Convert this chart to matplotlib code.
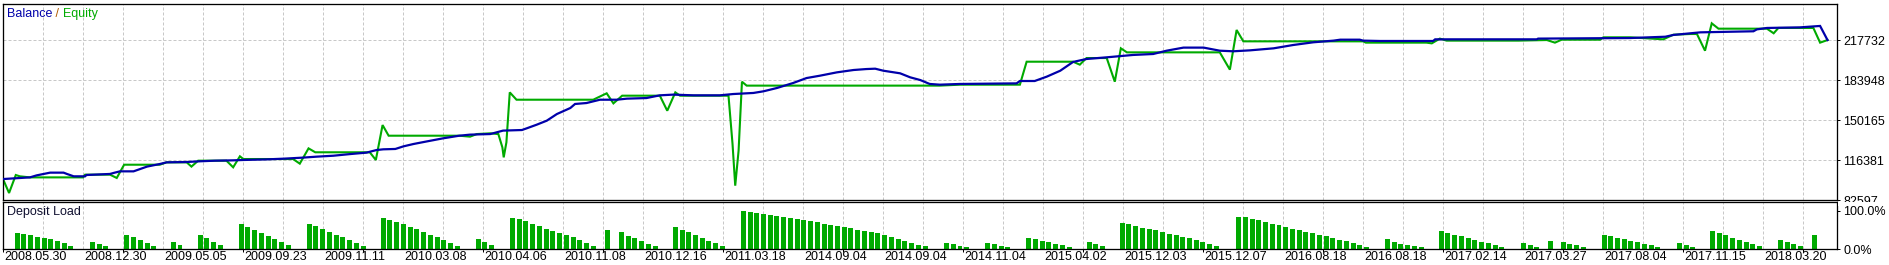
import numpy as np
import matplotlib
matplotlib.use('Agg')
import matplotlib.pyplot as plt
from matplotlib.patches import Rectangle

# ---- data (x = trade number) ----
balance_t = [0.0, 4.0, 5.0, 7.0, 9.0, 9.5, 10.5, 12.2, 12.4, 15.9, 16.6, 17.4, 19.4, 20.4, 21.4, 23.3,
             24.3, 27.3, 29.3, 31.5, 34.2, 35.7, 39.2, 41.7, 44.6, 46.6, 49.1, 51.6, 54.0, 55.5, 56.5,
             58.3, 59.5, 61.0, 63.0, 65.4, 67.8,
             69.4, 72.4, 74.3, 77.1, 77.8, 79.3, 80.8, 82.3, 84.3, 85.0, 86.7, 88.7, 91.2, 92.7, 95.6,
             97.6, 99.6, 102.6, 106.5, 108.5, 111.5, 113.0, 115.0, 117.4, 119.4, 121.4, 123.9, 126.4,
             128.3, 129.6, 130.8, 133.3, 134.8, 136.3,
             137.7, 139.2, 142.2, 150.6, 151.1, 153.3, 155.1, 157.1, 159.0, 161.0, 164.0, 167.9, 170.9,
             172.9, 175.4, 178.4, 180.8, 182.8, 185.3, 188.8, 191.7, 194.7, 197.7, 198.7, 201.6, 202.1,
             204.6,
             212.5, 212.8, 227.9, 228.1, 241.8, 247.0, 248.2, 252.2, 260.1, 260.6, 262.1, 267.0, 270.0,
             271.1]
balance = [100300, 101700, 103400, 105700, 105700, 104600, 102600, 102600, 103700, 104600, 105700,
           106800, 106800, 108800, 110800, 113000, 114400, 114700, 115300, 115800, 116100, 116400,
           116900, 117500, 118400, 119200, 120000, 121400, 122600, 124800, 125400, 125700, 127900,
           129900, 132100, 134700, 136900,
           137800, 138300, 141200, 141700, 143100, 146200, 149600, 155200, 160300, 163700, 164500,
           167300, 167300, 168200, 168700, 171000, 171600, 171000, 171000, 172100, 173000, 174400,
           177200, 181400, 185600, 187600, 190400, 192400, 193200, 193500, 191800, 189600, 186200,
           183900,
           180600, 180000, 180600, 181100, 183100, 183100, 186800, 191800, 199200, 201700, 203100,
           205100, 205900, 208700, 211300, 211300, 208700, 208200, 209000, 210700, 213500, 215800,
           217200, 218000, 218000, 217200, 216900,
           216900, 218300, 218300, 218900, 219400, 220500, 222000, 224200, 225100, 226700, 227900,
           228400, 229600, 217700]

equity_t = [0.0, 0.9, 1.9, 2.5, 4.0, 11.9, 12.2, 15.9, 16.9, 18.0, 23.3, 24.3, 27.3, 28.0, 29.0,
            33.2, 34.2, 35.2, 35.7, 43.1, 44.1, 45.4, 46.4, 54.5, 55.4, 56.4, 57.3, 67.8,
            69.4, 70.4, 72.4, 73.6, 74.2, 74.4, 74.8, 75.3, 76.3, 87.7, 89.7, 90.7, 92.0, 97.6, 98.7,
            99.9, 100.6, 107.8, 108.4, 108.8, 109.3, 109.8, 110.5, 136.3,
            139.2, 142.2, 151.1, 152.1, 159.0, 160.0, 161.0, 164.0, 165.2, 166.1, 167.0, 180.8, 182.3,
            183.3, 184.3, 202.1, 202.5, 204.6,
            211.5, 212.3, 213.5, 214.5, 225.2, 229.4, 230.6, 231.6, 237.3, 237.8, 241.8, 246.7, 248.2,
            250.7, 251.7, 252.9, 253.9, 254.9, 262.1, 263.1, 263.8, 269.0, 270.0, 271.1]
equity = [100300, 88500, 103700, 102600, 101700, 101700, 104000, 104000, 101200, 112400, 112400,
          114400, 114400, 110800, 115800, 115800, 110200, 119500, 117200, 117200, 113300, 126200,
          122900, 122900, 116400, 145900, 136900, 136900,
          136100, 138300, 138900, 138300, 127100, 118600, 131300, 173500, 167300, 167300, 172700,
          164200, 170700, 170700, 158000, 173500, 170700, 170700, 129900, 94700, 124300, 182500,
          179200, 179200,
          179200, 180000, 180000, 199400, 199400, 196900, 202500, 202500, 182500, 210700, 207300,
          207300, 192700, 226200, 216600, 216600, 215500, 215500,
          215500, 214900, 218900, 217200, 217200, 217700, 215500, 218000, 218000, 220000, 220000,
          218300, 222200, 222800, 222800, 208700, 231800, 227300, 227300, 223400, 227900, 227900,
          215500, 217700]

# deposit load: first trade of each run and the loads (%) of that run
load_start = [2.1, 13.3, 18.4, 25.3, 29.3, 35.4, 45.5, 56.5, 70.6, 75.7, 89.8, 91.9, 99.9, 110.0,
              140.2, 146.3, 152.4, 161.4, 166.3, 183.6, 205.7, 213.7, 225.9, 229.9, 231.8, 237.9,
              249.1, 254.0, 264.1, 269.1]
load_pct = [[42, 39, 36, 31, 28, 26, 21, 15, 8],
            [18, 12, 7],
            [36, 31, 24, 15, 8],
            [18, 10],
            [36, 29, 18, 10],
            [65, 57, 50, 41, 35, 25, 18, 10],
            [65, 60, 52, 44, 36, 31, 23, 15, 7],
            [81, 77, 70, 65, 57, 52, 44, 36, 31, 24, 15, 8],
            [25, 17, 10],
            [81, 78, 73, 65, 60, 52, 47, 41, 36, 31, 23, 15, 7],
            [49],
            [44, 35, 28, 20, 14, 7],
            [57, 49, 44, 36, 28, 20, 15, 7],
            [99, 97, 94, 91, 89, 86, 83, 81, 78, 75, 73, 70, 65, 62, 60, 57, 54, 49, 47, 44, 41, 36,
             31, 25, 20, 15, 10, 7],
            [15, 12, 7, 4],
            [15, 12, 7, 4],
            [29, 26, 21, 18, 12, 10, 4],
            [18, 12, 7],
            [68, 65, 60, 56, 52, 49, 44, 40, 36, 31, 28, 23, 18, 12, 7],
            [83, 83, 78, 75, 70, 65, 62, 57, 52, 49, 44, 41, 36, 33, 28, 23, 20, 15, 10, 4],
            [25, 18, 12, 10, 7, 4],
            [47, 41, 36, 33, 28, 23, 18, 15, 10, 4],
            [15, 10, 4],
            [20],
            [18, 12, 10, 4],
            [36, 33, 28, 25, 20, 18, 12, 10, 4],
            [15, 10, 4],
            [47, 41, 36, 28, 23, 18, 12, 7],
            [23, 18, 12, 7],
            [36]]

date_labels = ['2008.05.30', '2008.12.30', '2009.05.05', '2009.09.23', '2009.11.11', '2010.03.08',
               '2010.04.06', '2010.11.08', '2010.12.16', '2011.03.18', '2014.09.04', '2014.09.04',
               '2014.11.04', '2015.04.02', '2015.12.03', '2015.12.07', '2016.08.18', '2016.08.18',
               '2017.02.14', '2017.03.27', '2017.08.04', '2017.11.15', '2018.03.20']
price_ticks = [82597, 116381, 150165, 183948, 217732]
load_ticks = [0, 100]
load_labels = ['0.0%', '100.0%']

# ---- layout, in pixels of the 1889x265 picture ----
W, H, DPI = 1889, 265, 100
left, right = 3, 1837
px_trade = 6.73
main_top, main_bot = 3.5, 200
dep_top, dep_bot, dep_full = 202, 249, 210.7
grid_px = 40
fs = 9.0

blue = '#0000AA'
green = '#00AA00'
grid_c = '#C8C8C8'
px = 72.0 / DPI  # one pixel in points

plt.rcParams['font.family'] = ['Liberation Sans', 'DejaVu Sans']
plt.rcParams['font.size'] = fs

fig = plt.figure(figsize=(W / DPI, H / DPI), dpi=DPI)
fig.patch.set_facecolor('white')

def box(top, bot):
    return [left / W, 1 - bot / H, (right - left) / W, (bot - top) / H]

ax = fig.add_axes(box(main_top, main_bot))
dep = fig.add_axes(box(dep_top, dep_bot))

n_slots = (right - left) / px_trade
step = price_ticks[1] - price_ticks[0]
ytop = price_ticks[0] + (main_bot - main_top) / grid_px * step

grid_t = [grid_px * k / px_trade for k in range(1, 46)]
for a in (ax, dep):
    a.set_xlim(0, n_slots)
    for g in grid_t:
        a.axvline(g, color=grid_c, lw=px, ls=(0, (3, 2)), zorder=0)
    for s in a.spines.values():
        s.set_linewidth(1.3 * px)
        s.set_color('black')
    a.yaxis.tick_right()
    a.tick_params(axis='y', length=3 * px, width=px, pad=3 * px, labelsize=fs)

# main panel
ax.set_ylim(price_ticks[0], ytop)
ax.set_yticks(price_ticks)
ax.set_yticklabels([str(v) for v in price_ticks])
for v in price_ticks[1:]:
    ax.axhline(v, color=grid_c, lw=px, ls=(0, (3, 2)), zorder=0)
ax.set_xticks([])
ax.plot(equity_t, equity, color=green, lw=1.5, zorder=2, solid_joinstyle='miter')
ax.plot(balance_t, balance, color=blue, lw=1.6, zorder=3, solid_joinstyle='miter')

t1 = ax.annotate('Balance', xy=(7, H - 14), xycoords='figure pixels', color=blue,
                 va='center', ha='left', fontsize=fs)
t2 = ax.annotate(' / ', xy=(1, 0), xycoords=t1, va='bottom', ha='left', color='#B05A00', fontsize=fs)
t3 = ax.annotate('Equity', xy=(1, 0), xycoords=t2, va='bottom', ha='left', color=green, fontsize=fs)

# deposit load panel
xs, hs = [], []
for s0, run in zip(load_start, load_pct):
    for k, v in enumerate(run):
        xs.append(s0 + k)
        hs.append(v)
dep.bar(xs, hs, width=0.74, color=green, zorder=2)
dep.set_ylim(0, 100 * (dep_bot - dep_top) / (dep_bot - dep_full))
dep.set_yticks(load_ticks)
dep.set_yticklabels(load_labels)
dep.annotate('Deposit Load', xy=(7, H - 212), xycoords='figure pixels', va='center', ha='left',
             color='#101030', fontsize=fs)

dep.xaxis.remove_overlapping_locs = False
dep.set_xticks([120 * k / px_trade for k in range(16)])
dep.set_xticklabels([])
dep.set_xticks([(80 * k + 1) / px_trade for k in range(len(date_labels))], minor=True)
dep.set_xticklabels(date_labels, minor=True, ha='left')
dep.tick_params(axis='x', which='major', length=3 * px, width=px, direction='out')
dep.tick_params(axis='x', which='minor', length=0, pad=2.5 * px, labelsize=fs)

# the lowest price label is partly hidden by the lower panel
fig.add_artist(Rectangle((right + 1, H - 205.5), W - right, 4, transform=None,
                         facecolor='white', edgecolor='none', zorder=10))

fig.savefig('out.png', dpi=DPI, facecolor='white')
